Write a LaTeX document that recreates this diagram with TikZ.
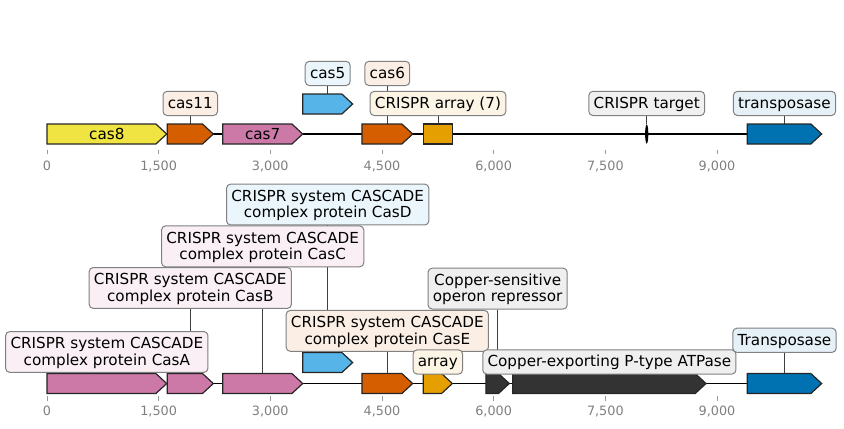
\documentclass[tikz,border=0pt]{standalone}
\usepackage{fontspec}
\setmainfont{DejaVu Sans}
\usetikzlibrary{positioning,backgrounds}

\definecolor{cyellow}{HTML}{F0E442}
\definecolor{cvermil}{HTML}{D55E00}
\definecolor{cpink}{HTML}{CC79A7}
\definecolor{csky}{HTML}{56B4E9}
\definecolor{corange}{HTML}{E69F00}
\definecolor{cblue}{HTML}{0072B2}
\definecolor{cdark}{HTML}{333333}

\tikzset{
  gene/.style={draw=black!85, line width=0.9pt, line join=miter},
  genetext/.style={inner sep=0pt, font=\fontsize{11.4}{12.5}\selectfont},
  lbl/.style={draw=black!50, line width=0.75pt, rounded corners=3pt,
    inner xsep=3.6pt, inner ysep=2.8pt, text height=10pt, text depth=2.5pt,
    align=center, font=\fontsize{11.4}{12.5}\selectfont},
  lbltwo/.style={lbl, text height=22.5pt},
  leader/.style={draw=black!75, line width=0.6pt},
  backbone/.style={line width=1.4pt},
  axtick/.style={draw=black!40, line width=0.6pt},
  ticklabel/.style={text=black!50, inner sep=0pt, font=\fontsize{9.6}{11}\selectfont}
}

% gene arrow: name, start, end, top, colour, text
\newcommand{\gene}[6]{%
  \draw[gene, fill=#5] (#2,#4) -- ({#3-145},#4) -- (#3,{#4+10})
    -- ({#3-145},{#4+20}) -- (#2,{#4+20}) -- cycle;
  \coordinate (#1) at ({#2/2+#3/2},#4);
  \node[genetext] (#1-name) at ({#2/2+#3/2},{#4+10}) {#6};
}

\begin{document}
\begin{tikzpicture}[x=0.055833pt, y=-0.75pt]
  \useasboundingbox (-631,0) rectangle (10706,428);

  % axes
  \foreach \base/\lab in {149.5/166, 396/411}
    \foreach \x/\t in {0/0, 1500/{1,500}, 3000/{3,000}, 4500/{4,500},
                       6000/{6,000}, 7500/{7,500}, 9000/{9,000}} {
      \draw[axtick] (\x,\base) -- (\x,{\base+4.5});
      \node[ticklabel] at (\x,\lab) {\t};
    }

  % top track
  \draw[backbone] (0,134) -- (10406,134);
  \gene{cas8}{0}{1608}{124}{cyellow}{cas8}
  \gene{cas11}{1616}{2234}{124}{cvermil}{}
  \gene{cas7}{2360}{3435}{124}{cpink}{cas7}
  \gene{cas5}{3435}{4106}{94}{csky}{}
  \gene{cas6}{4231}{4912}{124}{cvermil}{}
  \draw[gene, fill=corange] (5055,124) rectangle (5450,144);
  \coordinate (array) at (5252,124);
  \fill (8056,134) ellipse [x radius=1.2pt, y radius=7.2pt];
  \coordinate (target) at (8056,124);
  \gene{trans}{9407}{10406}{124}{cblue}{}

  \node[lbl, fill=cvermil!10, above=6pt of cas11] (l-cas11) {cas11};
  \node[lbl, fill=csky!12, above=6pt of cas5] (l-cas5) {cas5};
  \node[lbl, fill=cvermil!10, above=28.5pt of cas6] (l-cas6) {cas6};
  \node[lbl, fill=corange!10, above=6pt of array] (l-array) {CRISPR array (7)};
  \node[lbl, fill=black!6, above=6pt of target] (l-target) {CRISPR target};
  \node[lbl, fill=cblue!10, above=6pt of trans] (l-trans) {transposase};

  % bottom track
  \draw[backbone] (0,383.5) -- (10406,383.5);
  \gene{casA}{0}{1608}{373.5}{cpink}{}
  \gene{casB}{1616}{2234}{373.5}{cpink}{}
  \gene{casC}{2360}{3435}{373.5}{cpink}{}
  \gene{casD}{3435}{4106}{352.5}{csky}{}
  \gene{casE}{4231}{4912}{373.5}{cvermil}{}
  \gene{arrayb}{5055}{5445}{373.5}{corange}{}
  \gene{cusr}{5897}{6210}{373.5}{cdark}{}
  \gene{cuex}{6256}{8852}{373.5}{cdark}{}
  \gene{transb}{9407}{10406}{373.5}{cblue}{}

  \node[lbltwo, fill=cpink!12, above=0.5pt of casA] (l-casA)
    {CRISPR system CASCADE\\complex protein CasA};
  \node[lbltwo, fill=cpink!12, above=48.5pt of casB] (l-casB)
    {CRISPR system CASCADE\\complex protein CasB};
  \node[lbltwo, fill=cpink!12, above=79.7pt of casC] (l-casC)
    {CRISPR system CASCADE\\complex protein CasC};
  \node[lbltwo, fill=csky!12, above=95.3pt of casD] (l-casD)
    {CRISPR system CASCADE\\complex protein CasD};
  \node[lbltwo, fill=cvermil!10, above=16.3pt of casE] (l-casE)
    {CRISPR system CASCADE\\complex protein CasE};
  \node[lbltwo, fill=cdark!8, above=48pt of cusr] (l-cusr)
    {Copper-sensitive\\operon repressor};
  \node[lbl, fill=corange!10, above=-0.75pt of arrayb] (l-arrayb) {array};
  \node[lbl, fill=cdark!8, above=-0.75pt of cuex] (l-cuex)
    {Copper-exporting P-type ATPase};
  \node[lbl, fill=cblue!10, above=15.5pt of transb] (l-transb) {Transposase};

  % leader lines
  \begin{scope}[on background layer]
    \draw[leader] (l-cas11) -- (cas11);
    \draw[leader] (l-cas5) -- (cas5);
    \draw[leader] (l-cas6) -- (cas6);
    \draw[leader] (l-array) -- (array);
    \draw[leader] (l-target) -- (target);
    \draw[leader] (l-trans) -- (trans);
    \draw[leader] (l-casB) -- (casB);
    \draw[leader] (l-casC) -- (casC);
    \draw[leader] (l-casD) -- (casD);
    \draw[leader] (l-casE) -- (casE);
    \draw[leader] (l-cusr) -- (cusr);
    \draw[leader] (l-transb) -- (transb);
  \end{scope}
\end{tikzpicture}
\end{document}
